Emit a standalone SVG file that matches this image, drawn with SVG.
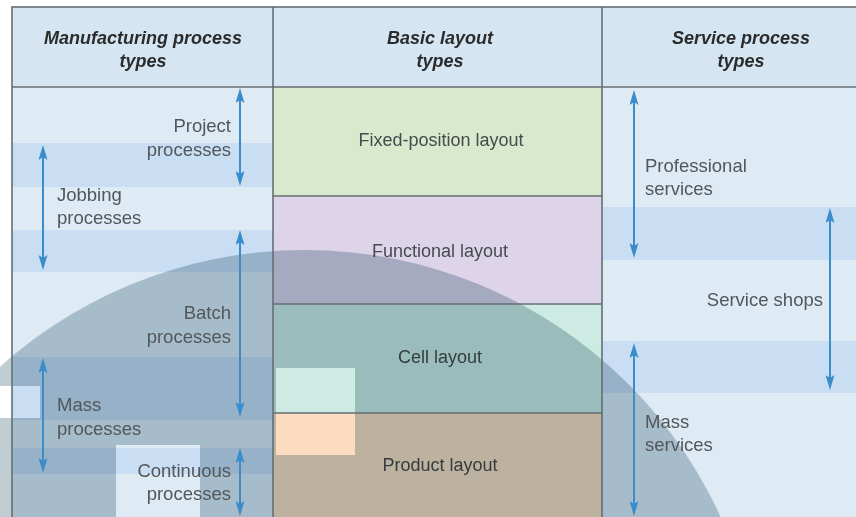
<svg xmlns="http://www.w3.org/2000/svg" width="856" height="517" viewBox="0 0 856 517">
  <style>
    .hdr { font-family: "Liberation Sans", Arial, sans-serif; font-size: 18px; font-weight: bold; font-style: italic; fill: #2b2b2b; text-anchor: middle; }
    .lbl { font-family: "Liberation Sans", Arial, sans-serif; font-size: 18.5px; fill: #52575b; }
    .mid { font-family: "Liberation Sans", Arial, sans-serif; font-size: 18px; fill: #464b4e; text-anchor: middle; }
    .end { text-anchor: end; }
    .light { fill: #deeaf4; }
    .dark { fill: #c9def2; }
    .grid { fill: none; stroke: #646e73; stroke-width: 1.6; }
    .arrow { stroke: #3a8dca; stroke-width: 2; fill: none; marker-start: url(#ah); marker-end: url(#ah); }
  </style>
  <defs>
    <marker id="ah" viewBox="0 0 15 9" markerWidth="15" markerHeight="9" refX="4" refY="4.5" orient="auto-start-reverse" markerUnits="userSpaceOnUse">
      <path d="M0,0 L15,4.5 L0,9 L3,4.5 z" fill="#3a8dca"/>
    </marker>
    <mask id="holes">
      <rect x="0" y="0" width="856" height="517" fill="#fff"/>
      <rect x="276" y="368" width="79" height="87" fill="#000"/>
      <rect x="116" y="445" width="84" height="72" fill="#000"/>
      <rect x="0" y="386" width="40" height="32" fill="#000"/>
    </mask>
  </defs>

  <rect x="0" y="0" width="856" height="517" fill="#ffffff"/>

  <g id="header">
    <rect x="12" y="7" width="844" height="80" fill="#d5e6f2"/>
  </g>

  <g id="manufacturing-column">
    <rect class="light" x="12" y="87" width="261" height="56"/>
    <rect class="dark" x="12" y="143" width="261" height="44"/>
    <rect class="light" x="12" y="187" width="261" height="43"/>
    <rect class="dark" x="12" y="230" width="261" height="42"/>
    <rect class="light" x="12" y="272" width="261" height="85"/>
    <rect class="dark" x="12" y="357" width="261" height="63"/>
    <rect class="light" x="12" y="420" width="261" height="28"/>
    <rect class="dark" x="12" y="448" width="261" height="26"/>
    <rect class="light" x="12" y="474" width="261" height="43"/>
  </g>

  <g id="service-column">
    <rect class="light" x="602" y="87" width="254" height="120"/>
    <rect class="dark" x="602" y="207" width="254" height="53"/>
    <rect class="light" x="602" y="260" width="254" height="81"/>
    <rect class="dark" x="602" y="341" width="254" height="52"/>
    <rect class="light" x="602" y="393" width="254" height="124"/>
  </g>

  <g id="fixed-position-layout">
    <rect x="273" y="87" width="329" height="109" fill="#d9e9cd"/>
    <text class="mid" x="441" y="146">Fixed-position layout</text>
  </g>
  <g id="functional-layout">
    <rect x="273" y="196" width="329" height="108" fill="#ddd4e9"/>
    <text class="mid" x="440" y="257">Functional layout</text>
  </g>
  <g id="cell-layout">
    <rect x="273" y="304" width="329" height="109" fill="#cdebe2"/>
    <text class="mid" x="440" y="363">Cell layout</text>
  </g>
  <g id="product-layout">
    <rect x="273" y="413" width="329" height="104" fill="#fcdcc0"/>
    <text class="mid" x="440" y="471">Product layout</text>
  </g>

  <g id="overlay">
    <circle cx="305" cy="707" r="457" fill="#c0cdd3" style="mix-blend-mode: multiply" mask="url(#holes)"/>
  </g>

  <g id="grid">
    <rect class="grid" x="12" y="7" width="846" height="520"/>
    <line class="grid" x1="12" y1="87" x2="856" y2="87"/>
    <line class="grid" x1="273" y1="7" x2="273" y2="517"/>
    <line class="grid" x1="602" y1="7" x2="602" y2="517"/>
    <line class="grid" x1="273" y1="196" x2="602" y2="196"/>
    <line class="grid" x1="273" y1="304" x2="602" y2="304"/>
    <line class="grid" x1="273" y1="413" x2="602" y2="413"/>
  </g>

  <g id="header-labels">
    <text class="hdr" x="143" y="44">Manufacturing process</text>
    <text class="hdr" x="143" y="67">types</text>
    <text class="hdr" x="440" y="44">Basic layout</text>
    <text class="hdr" x="440" y="67">types</text>
    <text class="hdr" x="741" y="44">Service process</text>
    <text class="hdr" x="741" y="67">types</text>
  </g>

  <g id="project-processes">
    <text class="lbl end" x="231" y="132">Project</text>
    <text class="lbl end" x="231" y="156">processes</text>
  </g>
  <g id="jobbing-processes">
    <text class="lbl" x="57" y="201">Jobbing</text>
    <text class="lbl" x="57" y="224">processes</text>
  </g>
  <g id="batch-processes">
    <text class="lbl end" x="231" y="319">Batch</text>
    <text class="lbl end" x="231" y="343">processes</text>
  </g>
  <g id="mass-processes">
    <text class="lbl" x="57" y="411">Mass</text>
    <text class="lbl" x="57" y="435">processes</text>
  </g>
  <g id="continuous-processes">
    <text class="lbl end" x="231" y="477">Continuous</text>
    <text class="lbl end" x="231" y="500">processes</text>
  </g>
  <g id="professional-services">
    <text class="lbl" x="645" y="172">Professional</text>
    <text class="lbl" x="645" y="195">services</text>
  </g>
  <g id="service-shops">
    <text class="lbl end" x="823" y="306">Service shops</text>
  </g>
  <g id="mass-services">
    <text class="lbl" x="645" y="428">Mass</text>
    <text class="lbl" x="645" y="451">services</text>
  </g>

  <g id="connectors">
    <line class="arrow" x1="240" y1="99" x2="240" y2="175"/>
    <line class="arrow" x1="43" y1="156" x2="43" y2="259"/>
    <line class="arrow" x1="240" y1="241" x2="240" y2="406"/>
    <line class="arrow" x1="43" y1="369" x2="43" y2="462"/>
    <line class="arrow" x1="240" y1="459" x2="240" y2="505"/>
    <line class="arrow" x1="634" y1="101" x2="634" y2="247"/>
    <line class="arrow" x1="830" y1="219" x2="830" y2="379"/>
    <line class="arrow" x1="634" y1="354" x2="634" y2="505"/>
  </g>
</svg>
